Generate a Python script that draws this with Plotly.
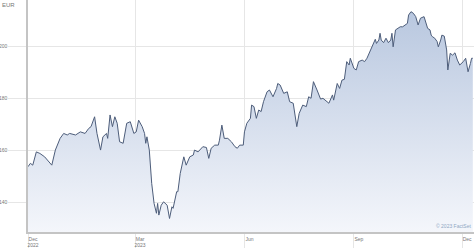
import plotly.graph_objects as go

dates = [
    "2022-12-01", "2022-12-03", "2022-12-05", "2022-12-08", "2022-12-11", "2022-12-15",
    "2022-12-21", "2022-12-24", "2022-12-28", "2022-12-31", "2023-01-03", "2023-01-05",
    "2023-01-10", "2023-01-14", "2023-01-18", "2023-01-21", "2023-01-23", "2023-01-26",
    "2023-01-28", "2023-01-31", "2023-02-02", "2023-02-05", "2023-02-06", "2023-02-08",
    "2023-02-10", "2023-02-12", "2023-02-14", "2023-02-16", "2023-02-19", "2023-02-21",
    "2023-02-22", "2023-02-25", "2023-02-28", "2023-03-02", "2023-03-04", "2023-03-07",
    "2023-03-09", "2023-03-10", "2023-03-11", "2023-03-13", "2023-03-15", "2023-03-17",
    "2023-03-19", "2023-03-20", "2023-03-21", "2023-03-23", "2023-03-25", "2023-03-28",
    "2023-03-29", "2023-03-30", "2023-04-01", "2023-04-02", "2023-04-05", "2023-04-06",
    "2023-04-08", "2023-04-11", "2023-04-13", "2023-04-16", "2023-04-19", "2023-04-20",
    "2023-04-23", "2023-04-27", "2023-04-30", "2023-05-02", "2023-05-04", "2023-05-07",
    "2023-05-10", "2023-05-11", "2023-05-13", "2023-05-15", "2023-05-18", "2023-05-21",
    "2023-05-24", "2023-05-26", "2023-05-28", "2023-05-31", "2023-06-01", "2023-06-03",
    "2023-06-06", "2023-06-07", "2023-06-09", "2023-06-11", "2023-06-13", "2023-06-15",
    "2023-06-17", "2023-06-20", "2023-06-22", "2023-06-25", "2023-06-28", "2023-06-29",
    "2023-07-01", "2023-07-04", "2023-07-07", "2023-07-09", "2023-07-12", "2023-07-15",
    "2023-07-17", "2023-07-20", "2023-07-23", "2023-07-25", "2023-07-27", "2023-07-29",
    "2023-08-01", "2023-08-04", "2023-08-06", "2023-08-09", "2023-08-11", "2023-08-14",
    "2023-08-15", "2023-08-18", "2023-08-20", "2023-08-22", "2023-08-24", "2023-08-26",
    "2023-08-28", "2023-08-29", "2023-09-01", "2023-09-03", "2023-09-05", "2023-09-08",
    "2023-09-10", "2023-09-12", "2023-09-15", "2023-09-17", "2023-09-19", "2023-09-20",
    "2023-09-22", "2023-09-23", "2023-09-24", "2023-09-26", "2023-09-28", "2023-09-30",
    "2023-10-02", "2023-10-03", "2023-10-04", "2023-10-06", "2023-10-08", "2023-10-10",
    "2023-10-12", "2023-10-14", "2023-10-16", "2023-10-17", "2023-10-19", "2023-10-21",
    "2023-10-23", "2023-10-25", "2023-10-27", "2023-10-30", "2023-10-31", "2023-11-02",
    "2023-11-04", "2023-11-05", "2023-11-06", "2023-11-08", "2023-11-10", "2023-11-11",
    "2023-11-13", "2023-11-14", "2023-11-16", "2023-11-18", "2023-11-19", "2023-11-21",
    "2023-11-23", "2023-11-25", "2023-11-27", "2023-11-29", "2023-12-02", "2023-12-04",
    "2023-12-05", "2023-12-06", "2023-12-08", "2023-12-09", "2023-12-10",
]

prices = [
    153.6, 154.9, 154.2, 159.3, 158.7, 157.4,
    154.2, 160.0, 164.5, 166.4, 165.8, 166.4,
    165.8, 167.0, 166.4, 168.3, 169.0, 172.8,
    166.4, 160.0, 165.1, 166.4, 164.5, 173.5,
    169.0, 172.8, 170.3, 163.2, 162.6, 167.0,
    170.3, 170.9, 166.4, 167.0, 171.5, 169.0,
    166.4, 162.6, 165.1, 160.0, 147.2, 139.5,
    135.7, 139.5, 135.0, 138.8, 140.1, 138.8,
    135.7, 133.7, 138.2, 137.6, 144.0, 144.0,
    151.0, 157.4, 154.2, 157.4, 158.1, 160.0,
    159.3, 161.3, 161.0, 156.8, 160.7, 161.9,
    161.9, 163.8, 169.6, 164.5, 164.5, 163.2,
    161.3, 160.7, 161.9, 161.9, 167.0, 170.3,
    172.2, 177.3, 176.7, 172.2, 175.4, 174.8,
    178.6, 182.4, 183.1, 180.5, 183.7, 185.6,
    185.0, 181.8, 182.4, 178.6, 178.0, 169.0,
    174.1, 177.3, 176.7, 180.5, 179.9, 186.3,
    183.1, 179.6, 179.9, 178.6, 178.0, 181.2,
    179.2, 185.6, 183.7, 186.9, 187.2, 194.0,
    192.7, 195.3, 191.4, 190.8, 194.0, 194.6,
    194.0, 195.3, 198.5, 201.0, 202.6, 201.0,
    202.3, 204.9, 202.3, 201.3, 203.0, 201.3,
    202.3, 204.9, 199.7, 206.2, 206.8, 207.4,
    207.4, 208.1, 208.7, 211.9, 213.2, 212.6,
    211.3, 208.1, 210.7, 211.3, 210.0, 206.8,
    206.2, 204.2, 203.6, 203.0, 201.7, 199.7,
    202.3, 204.2, 203.8, 198.5, 190.8, 197.2,
    196.5, 197.4, 194.6, 192.7, 194.0, 195.3,
    192.7, 190.1, 193.3, 195.3, 195.3,
]

x_tick_vals = ["2022-12-01", "2023-03-01", "2023-06-01", "2023-09-01", "2023-12-01"]
x_tick_text = ["Dec<br>2022", "Mar<br>2023", "Jun", "Sep", "Dec"]
y_tick_vals = [140, 160, 180, 200]
x_range = ["2022-12-01", "2023-12-11"]
y_range = [128.5, 217.7]

FONT = "Liberation Sans, Arial, sans-serif"
GRID = "#e6e6e6"

fig = go.Figure()
fig.add_trace(go.Scatter(
    x=dates, y=prices, mode="lines",
    line=dict(color="#4d5d7a", width=1),
    fill="tozeroy",
    fillgradient=dict(
        type="vertical", start=y_range[0], stop=214,
        colorscale=[[0, "rgb(244,246,251)"], [1, "rgb(184,199,223)"]],
    ),
    hoverinfo="skip",
))

fig.update_layout(
    width=474, height=248,
    margin=dict(l=28, r=0, t=0, b=16),
    paper_bgcolor="white", plot_bgcolor="white",
    showlegend=False,
    font=dict(family=FONT, size=6, color="#777777"),
    xaxis=dict(
        range=x_range, tickvals=x_tick_vals, ticktext=x_tick_text,
        showgrid=True, gridcolor=GRID, gridwidth=1,
        ticks="outside", ticklen=16, tickcolor=GRID, tickwidth=1,
        ticklabelstandoff=-15, ticklabelshift=5,
        showline=True, linecolor="#c4c4c4", linewidth=1.5,
        tickfont=dict(size=5, color="#777777"),
        zeroline=False,
    ),
    yaxis=dict(
        range=y_range, tickvals=y_tick_vals,
        showgrid=True, gridcolor=GRID, gridwidth=1,
        ticks="outside", ticklen=18, tickcolor=GRID, tickwidth=1,
        showline=True, linecolor="#c4c4c4", linewidth=1.5,
        tickfont=dict(size=5, color="#777777"),
        zeroline=False,
    ),
    annotations=[
        dict(text="EUR", xref="paper", yref="paper", x=-28/446, y=1.0,
             xanchor="left", yanchor="top", showarrow=False,
             font=dict(size=6, color="#777777")),
        dict(text="© 2023 FactSet", xref="paper", yref="paper", x=0.997, y=0.005,
             xanchor="right", yanchor="bottom", showarrow=False,
             font=dict(size=5, color="#8fa7c4")),
    ],
)

fig.write_html("out.html")
